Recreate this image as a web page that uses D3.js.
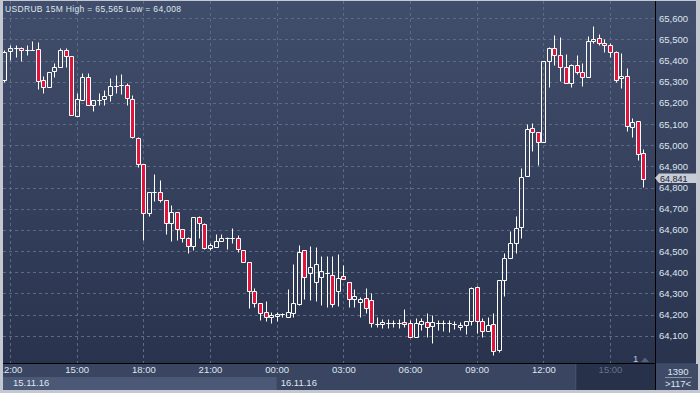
<!DOCTYPE html>
<html>
<head>
<meta charset="utf-8">
<script src="https://cdn.jsdelivr.net/npm/d3@7"></script>
<style>
  html, body { margin: 0; padding: 0; background: #c4c9d1; }
  svg { display: block; font-family: "Liberation Sans", Arial, sans-serif; }
</style>
</head>
<body>
<svg id="chart" width="700" height="393"></svg>
<script>
// ── Data: USDRUB M15, first bar 15.11.16 11:45 ───────────────────────────────
const symbol = 'USDRUB';
const period = '15M';
const firstBar = new Date(2016, 10, 15, 11, 45);
const barMinutes = 15;

const opens = [
  65.308, 65.445, 65.458, 65.458, 65.450, 65.450, 65.454, 65.308, 65.274, 65.350,
  65.368, 65.450, 65.422, 65.138, 65.214, 65.321, 65.189, 65.214, 65.217, 65.236,
  65.280, 65.285, 65.283, 65.217, 65.033, 64.910, 64.679, 64.781, 64.778, 64.740,
  64.631, 64.683, 64.603, 64.560, 64.525, 64.660, 64.627, 64.516, 64.521, 64.546,
  64.560, 64.560, 64.560, 64.505, 64.450, 64.311, 64.253, 64.211, 64.187, 64.195,
  64.201, 64.190, 64.206, 64.250, 64.504, 64.395, 64.352, 64.376, 64.395, 64.386,
  64.313, 64.382, 64.352, 64.275, 64.258, 64.277, 64.269, 64.155, 64.154, 64.161,
  64.159, 64.159, 64.163, 64.159, 64.095, 64.154, 64.163, 64.147, 64.161, 64.161,
  64.161, 64.155, 64.143, 64.149, 64.168, 64.329, 64.171, 64.124, 64.154, 64.032,
  64.363, 64.469, 64.537, 64.612, 64.855, 65.080, 65.061, 65.014, 65.400, 65.458,
  65.425, 65.371, 65.293, 65.378, 65.345, 65.321, 65.491, 65.506, 65.482, 65.472,
  65.439, 65.317, 65.326, 65.088, 65.115, 64.962
];
const highs = [
  65.450, 65.474, 65.474, 65.466, 65.474, 65.493, 65.488, 65.327, 65.346, 65.387,
  65.458, 65.458, 65.422, 65.246, 65.343, 65.343, 65.214, 65.248, 65.261, 65.317,
  65.332, 65.337, 65.293, 65.238, 65.041, 64.910, 64.781, 64.864, 64.836, 64.740,
  64.718, 64.683, 64.603, 64.565, 64.660, 64.666, 64.631, 64.537, 64.581, 64.581,
  64.568, 64.608, 64.576, 64.505, 64.450, 64.324, 64.253, 64.264, 64.211, 64.211,
  64.209, 64.321, 64.439, 64.529, 64.505, 64.524, 64.518, 64.477, 64.477, 64.477,
  64.486, 64.434, 64.352, 64.321, 64.284, 64.324, 64.300, 64.187, 64.179, 64.179,
  64.174, 64.179, 64.225, 64.174, 64.185, 64.185, 64.206, 64.198, 64.174, 64.174,
  64.174, 64.170, 64.166, 64.168, 64.329, 64.335, 64.182, 64.187, 64.206, 64.363,
  64.489, 64.596, 64.666, 64.891, 65.101, 65.107, 65.061, 65.400, 65.466, 65.521,
  65.510, 65.431, 65.384, 65.427, 65.387, 65.516, 65.565, 65.526, 65.502, 65.482,
  65.444, 65.436, 65.364, 65.127, 65.115, 64.981
];
const lows = [
  65.300, 65.403, 65.419, 65.400, 65.427, 65.450, 65.267, 65.246, 65.274, 65.324,
  65.368, 65.368, 65.142, 65.138, 65.214, 65.189, 65.161, 65.189, 65.192, 65.211,
  65.248, 65.241, 65.190, 65.033, 64.896, 64.552, 64.666, 64.738, 64.731, 64.581,
  64.549, 64.552, 64.544, 64.492, 64.505, 64.560, 64.508, 64.505, 64.521, 64.546,
  64.510, 64.540, 64.497, 64.450, 64.230, 64.237, 64.174, 64.171, 64.161, 64.171,
  64.190, 64.190, 64.190, 64.245, 64.272, 64.269, 64.264, 64.245, 64.234, 64.234,
  64.240, 64.367, 64.237, 64.237, 64.187, 64.209, 64.140, 64.140, 64.135, 64.138,
  64.143, 64.135, 64.143, 64.095, 64.095, 64.127, 64.095, 64.067, 64.127, 64.124,
  64.116, 64.130, 64.127, 64.108, 64.152, 64.114, 64.095, 64.124, 64.008, 64.024,
  64.289, 64.469, 64.489, 64.560, 64.855, 64.974, 64.907, 65.014, 65.277, 65.379,
  65.304, 65.293, 65.277, 65.337, 65.282, 65.321, 65.485, 65.474, 65.441, 65.419,
  65.300, 65.269, 65.069, 65.038, 64.930, 64.804
];
const closes = [
  65.442, 65.458, 65.458, 65.449, 65.450, 65.450, 65.305, 65.274, 65.346, 65.368,
  65.450, 65.422, 65.142, 65.217, 65.321, 65.189, 65.214, 65.214, 65.233, 65.280,
  65.280, 65.285, 65.222, 65.038, 64.912, 64.679, 64.781, 64.781, 64.741, 64.631,
  64.683, 64.603, 64.560, 64.525, 64.660, 64.631, 64.513, 64.529, 64.546, 64.560,
  64.560, 64.560, 64.508, 64.450, 64.313, 64.253, 64.209, 64.187, 64.198, 64.204,
  64.201, 64.211, 64.253, 64.494, 64.376, 64.423, 64.438, 64.406, 64.395, 64.248,
  64.371, 64.367, 64.272, 64.288, 64.273, 64.230, 64.159, 64.155, 64.163, 64.161,
  64.159, 64.159, 64.154, 64.095, 64.159, 64.168, 64.140, 64.163, 64.161, 64.161,
  64.161, 64.155, 64.151, 64.168, 64.324, 64.168, 64.124, 64.149, 64.029, 64.363,
  64.466, 64.537, 64.608, 64.849, 65.075, 65.061, 65.014, 65.400, 65.458, 65.425,
  65.371, 65.293, 65.378, 65.345, 65.321, 65.491, 65.501, 65.482, 65.472, 65.439,
  65.310, 65.326, 65.090, 65.109, 64.957, 64.841
];

const priceTicks = [64.1, 64.2, 64.3, 64.4, 64.5, 64.6, 64.7, 64.8, 64.9, 65.0, 65.1, 65.2, 65.3, 65.4, 65.5, 65.6];
const dayStarts  = [new Date(2016, 10, 15), new Date(2016, 10, 16)];
const dayLabels  = ['15.11.16', '16.11.16'];
const futureFrom = new Date(2016, 10, 16, 14, 0);   // shaded "15:00" strip on time scale
const barsLabel  = '1390';
const scrollLabel = '>117<';
const shiftLabel = '1';

// ── Layout ───────────────────────────────────────────────────────────────────
const W = 700, H = 393;
const plot = { left: 3, right: 655, top: 1, bottom: 363 };
const C = {
  bgTop: '#414e6b', bgBot: '#29334e',
  grid: '#5c6a86', text: '#dfe5ef', dim: '#66728b',
  bull: '#ffffff', bear: '#e0143c', frame: '#c4c9d1'
};
const fmt = v => d3.format('.3f')(v).replace('.', ',');

const bars = opens.map((o, i) => ({
  t: d3.timeMinute.offset(firstBar, i * barMinutes),
  o, h: highs[i], l: lows[i], c: closes[i]
}));

const x = d3.scaleTime()
  .domain([new Date(2016, 10, 15, 12), new Date(2016, 10, 16, 15)])
  .range([10, 610]);
const y = d3.scaleLinear().domain([64.1, 65.6]).range([335.7, 18.3]);

const svg = d3.select('#chart');
const defs = svg.append('defs');
const grad = defs.append('linearGradient').attr('id', 'bg')
  .attr('gradientUnits', 'userSpaceOnUse').attr('x1', 0).attr('y1', 0).attr('x2', 0).attr('y2', plot.bottom);
grad.append('stop').attr('offset', 0).attr('stop-color', C.bgTop);
grad.append('stop').attr('offset', 1).attr('stop-color', C.bgBot);
defs.append('clipPath').attr('id', 'clip').append('rect')
  .attr('x', plot.left).attr('y', plot.top).attr('width', plot.right - plot.left).attr('height', plot.bottom - plot.top);

// backgrounds
svg.append('rect').attr('width', W).attr('height', H).attr('fill', C.frame);
svg.append('rect').attr('x', plot.left).attr('y', 0).attr('width', 696 - plot.left).attr('height', plot.bottom)
  .attr('fill', 'url(#bg)');
svg.append('rect').attr('x', plot.left).attr('y', plot.bottom).attr('width', 696 - plot.left).attr('height', 390 - plot.bottom)
  .attr('fill', '#3a4561');

// date band for first day
svg.append('rect').attr('x', plot.left).attr('y', 377).attr('width', x(dayStarts[1]) - plot.left).attr('height', 13)
  .attr('fill', '#4b5876');

// ── Grid ─────────────────────────────────────────────────────────────────────
const timeTicks = x.ticks(d3.timeHour.every(3));
const grid = svg.append('g').attr('clip-path', 'url(#clip)')
  .attr('stroke', C.grid).attr('stroke-dasharray', '3,3').attr('stroke-width', 1);
grid.selectAll('line.v').data(timeTicks).join('line').attr('class', 'v')
  .attr('x1', d => Math.round(x(d)) + 0.5).attr('x2', d => Math.round(x(d)) + 0.5)
  .attr('y1', plot.top).attr('y2', plot.bottom);
grid.selectAll('line.h').data(priceTicks).join('line').attr('class', 'h')
  .attr('x1', plot.left).attr('x2', plot.right)
  .attr('y1', d => Math.round(y(d)) + 0.5).attr('y2', d => Math.round(y(d)) + 0.5);

// ── Candles ──────────────────────────────────────────────────────────────────
const candles = svg.append('g').attr('clip-path', 'url(#clip)');
const g = candles.selectAll('g').data(bars).join('g');
const cx = d => Math.round(x(d.t)) + 0.5;
const py = v => Math.round(y(v)) + 0.5;
g.append('path')
  .attr('d', d => {
    const top = py(Math.max(d.o, d.c)), bot = py(Math.min(d.o, d.c));
    return `M${cx(d)},${py(d.h)}V${top}M${cx(d)},${bot}V${py(d.l)}`;
  })
  .attr('stroke', C.bull).attr('stroke-width', 1).attr('fill', 'none');
g.append('path')
  .attr('d', d => {
    const top = py(Math.max(d.o, d.c)), bot = py(Math.min(d.o, d.c));
    return `M${cx(d) - 2},${top}H${cx(d) + 2}V${bot}H${cx(d) - 2}Z`;
  })
  .attr('stroke', C.bull).attr('stroke-width', 1)
  .attr('fill', d => d.c < d.o ? C.bear : 'none');

// ── Separators ───────────────────────────────────────────────────────────────
svg.append('line').attr('x1', plot.left).attr('x2', 656).attr('y1', 363.5).attr('y2', 363.5)
  .attr('stroke', '#000');
svg.append('line').attr('x1', 655.5).attr('x2', 655.5).attr('y1', 0).attr('y2', 390)
  .attr('stroke', '#000');

// ── Price axis ───────────────────────────────────────────────────────────────
const yAxis = svg.append('g').attr('transform', 'translate(656,0)')
  .call(d3.axisRight(y).tickValues(priceTicks).tickFormat(fmt).tickSize(0).tickPadding(3));
yAxis.select('.domain').remove();
yAxis.selectAll('text').attr('fill', C.text).attr('font-size', '9.5px')
  .attr('font-family', '"Liberation Sans", Arial, sans-serif');

// current price marker
const last = bars[bars.length - 1];
const ly = y(last.c);
svg.append('path')
  .attr('d', `M655,${ly - 0.8}L659,${ly - 5.5}H697V${ly + 4}H659Z`)
  .attr('fill', '#c8ccd4');
svg.append('text').attr('x', 660).attr('y', ly + 2.6)
  .attr('font-size', '9px').attr('fill', '#1d2538').text(fmt(last.c));

// ── Time axis ────────────────────────────────────────────────────────────────
svg.append('rect').attr('x', x(futureFrom) - 12.5).attr('y', 364).attr('width', 655 - x(futureFrom) + 12.5).attr('height', 26)
  .attr('fill', '#27314a');
svg.append('line').attr('x1', x(futureFrom) - 12).attr('x2', x(futureFrom) - 12).attr('y1', 364).attr('y2', 390)
  .attr('stroke', '#4c5874');

const xAxis = svg.append('g').attr('transform', `translate(0,${plot.bottom})`)
  .call(d3.axisBottom(x).ticks(d3.timeHour.every(3)).tickFormat(d3.timeFormat('%H:%M')).tickSize(0).tickPadding(3));
xAxis.select('.domain').remove();
xAxis.selectAll('text').attr('font-size', '9.5px')
  .attr('font-family', '"Liberation Sans", Arial, sans-serif')
  .attr('fill', d => d >= futureFrom ? C.dim : C.text);

svg.selectAll('text.day').data(dayStarts).join('text').attr('class', 'day')
  .attr('x', d => Math.max(x(d) + 4, 13)).attr('y', 386)
  .attr('font-size', '9.5px').attr('fill', C.text)
  .text((d, i) => dayLabels[i]);

// shift marker
svg.append('text').attr('x', 633).attr('y', 362).attr('font-size', '9.5px').attr('fill', '#b8c8e0').text(shiftLabel);
svg.append('path').attr('d', 'M641,362L645,357.5L649,362Z').attr('fill', '#56627c');

// bottom-right info box
svg.append('rect').attr('x', 656).attr('y', 364).attr('width', 42).attr('height', 26).attr('fill', '#3e4a66');
svg.append('text').attr('x', 678).attr('y', 375).attr('text-anchor', 'middle')
  .attr('font-size', '9.5px').attr('fill', C.text).text(barsLabel);
svg.append('line').attr('x1', 665).attr('x2', 692).attr('y1', 377.5).attr('y2', 377.5).attr('stroke', '#8893a8');
svg.append('text').attr('x', 678).attr('y', 387).attr('text-anchor', 'middle')
  .attr('font-size', '9.5px').attr('fill', C.text).text(scrollLabel);

// ── Title ────────────────────────────────────────────────────────────────────
svg.append('text').attr('x', 5).attr('y', 11.5)
  .attr('font-size', '8.5px').attr('fill', C.text)
  .attr('textLength', 176).attr('lengthAdjust', 'spacing')
  .text(`${symbol} ${period} High = ${fmt(d3.max(highs))} Low = ${fmt(d3.min(lows))}`);

// frame
svg.append('rect').attr('x', 0).attr('y', 0).attr('width', 3).attr('height', H).attr('fill', C.frame);
svg.append('rect').attr('x', 0).attr('y', 0).attr('width', W).attr('height', 1).attr('fill', C.frame);
svg.append('rect').attr('x', 0).attr('y', 390).attr('width', W).attr('height', 3).attr('fill', C.frame);
svg.append('rect').attr('x', 698).attr('y', 0).attr('width', 2).attr('height', H).attr('fill', C.frame);
</script>
</body>
</html>
